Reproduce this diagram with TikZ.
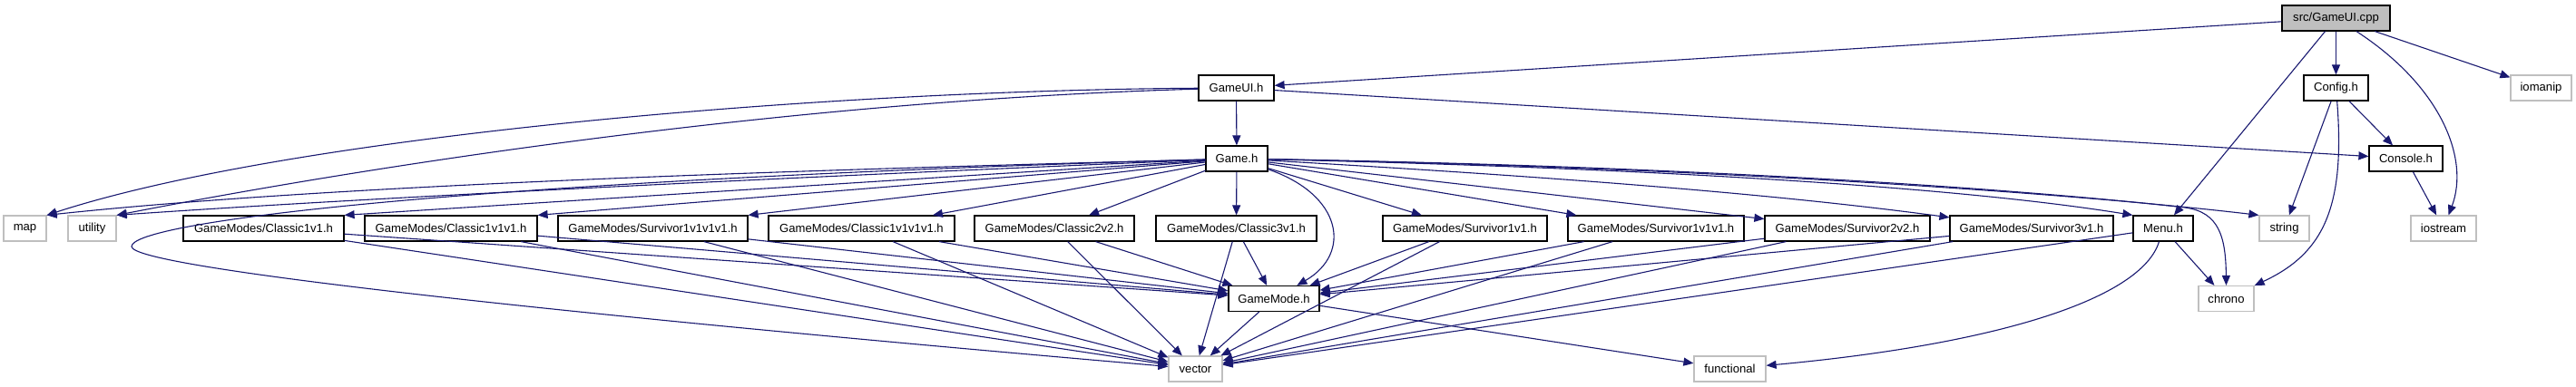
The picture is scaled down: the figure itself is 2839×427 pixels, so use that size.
\documentclass[tikz,border=0pt]{standalone}
\usepackage{fontspec}
\setmainfont{Liberation Sans}
\usetikzlibrary{arrows.meta}
\definecolor{edgeblue}{HTML}{191970}
\definecolor{greyb}{HTML}{BFBFBF}
\begin{document}
\begin{tikzpicture}[x=0.5pt,y=-0.5pt,
  box/.style={draw=black, line width=0.6pt, fill=white, rectangle, inner sep=0pt,
    minimum height=14pt, font=\fontsize{6.55pt}{8pt}\selectfont},
  sysbox/.style={box, draw=greyb},
  srcbox/.style={box, fill=greyb},
  edge/.style={draw=edgeblue, line width=0.55pt, -{Triangle[length=5.5pt,width=4.5pt]}},
]
\useasboundingbox (0,0) rectangle (2839,427);
% nodes
\node[srcbox, minimum width=59.5pt] (cpp) at (2574.5,20) {src/GameUI.cpp};
\node[box, minimum width=41.5pt] (gameui) at (1362.5,97) {GameUI.h};
\node[box, minimum width=35.5pt] (config) at (2574.5,97) {Config.h};
\node[sysbox, minimum width=33.5pt] (iomanip) at (2800.5,97) {iomanip};
\node[box, minimum width=34pt] (game) at (1363,175) {Game.h};
\node[box, minimum width=40.5pt] (console) at (2651.5,175) {Console.h};
\node[sysbox, minimum width=23.5pt] (map) at (27.5,252) {map};
\node[sysbox, minimum width=26.5pt] (utility) at (101.5,252) {utility};
\node[box, minimum width=88.5pt] (c11) at (290.5,252) {GameModes/Classic1v1.h};
\node[box, minimum width=95pt] (c111) at (497,252) {GameModes/Classic1v1v1.h};
\node[box, minimum width=104.5pt] (s1111) at (719.5,252) {GameModes/Survivor1v1v1v1.h};
\node[box, minimum width=102.5pt] (c1111) at (949.5,252) {GameModes/Classic1v1v1v1.h};
\node[box, minimum width=88pt] (c22) at (1162,252) {GameModes/Classic2v2.h};
\node[box, minimum width=88.5pt] (c31) at (1362.5,252) {GameModes/Classic3v1.h};
\node[box, minimum width=90.5pt] (s11) at (1614.5,252) {GameModes/Survivor1v1.h};
\node[box, minimum width=97pt] (s111) at (1825,252) {GameModes/Survivor1v1v1.h};
\node[box, minimum width=91pt] (s22) at (2036,252) {GameModes/Survivor2v2.h};
\node[box, minimum width=90pt] (s31) at (2239,252) {GameModes/Survivor3v1.h};
\node[box, minimum width=33pt] (menu) at (2384,252) {Menu.h};
\node[sysbox, minimum width=27.5pt] (string) at (2517.5,252) {string};
\node[sysbox, minimum width=36pt] (iostream) at (2693,252) {iostream};
\node[box, minimum width=50pt] (gamemode) at (1404,329.5) {GameMode.h};
\node[sysbox, minimum width=30.5pt] (chrono) at (2453.5,329.5) {chrono};
\node[sysbox, minimum width=29.5pt] (vector) at (1317.5,407) {vector};
\node[sysbox, minimum width=39.5pt] (functional) at (1906.5,407) {functional};
\coordinate (bend) at (2408,229);
% src/GameUI.cpp
\draw[edge] (cpp) -- (gameui);
\draw[edge] (cpp) -- (config);
\draw[edge] (cpp) -- (iomanip);
\draw[edge] (cpp) -- (menu);
\draw[edge] (cpp) .. controls (2690,95) and (2722,175) .. (iostream);
% Config.h
\draw[edge] (config) -- (console);
\draw[edge] (config) -- (string);
\draw[edge] (config) .. controls (2585,230) and (2560,280) .. (chrono);
% Console.h
\draw[edge] (console) -- (iostream);
% GameUI.h
\draw[edge] (gameui) -- (game);
\draw[edge] (gameui) -- (console);
\draw[edge] (gameui) .. controls (900,100) and (320,150) .. (map.north east);
\draw[edge] (gameui) .. controls (900,110) and (450,175) .. (utility.north east);
% Game.h
\draw[edge] (game) .. controls (1000,185) and (400,200) .. (map.north east);
\draw[edge] (game) .. controls (1000,190) and (450,215) .. (utility.north east);
\draw[edge] (game) .. controls (500,200) and (145,245) .. (145,272)
  .. controls (145,295) and (600,345) .. (vector);
\draw[edge] (game) -- (c11.north east);
\draw[edge] (game) -- (c111.north east);
\draw[edge] (game) -- (s1111.north east);
\draw[edge] (game) -- (c1111);
\draw[edge] (game) -- (c22);
\draw[edge] (game) -- (c31);
\draw[edge] (game) .. controls (1480,215) and (1490,280) .. (gamemode);
\draw[edge] (game) -- (s11);
\draw[edge] (game) -- (s111);
\draw[edge] (game) -- (s22);
\draw[edge] (game) .. controls (1800,200) and (2000,220) .. (s31);
\draw[edge] (game) .. controls (1800,185) and (2150,205) .. (menu.north west);
\draw[edge] (game) .. controls (1900,185) and (2300,215) .. (string.north west);
\draw[edge] (game) .. controls (1900,184) and (2250,211) .. (bend)
  .. controls (2446,234) and (2453,262) .. (chrono.north);
% GameModes headers
\foreach \g in {c11,c111,s1111,c1111,c22,c31,s11,s111,s22,s31}{
  \draw[edge] (\g) -- (gamemode);
  \draw[edge] (\g) -- (vector);
}
% Menu.h
\draw[edge] (menu) -- (vector);
\draw[edge] (menu) -- (chrono);
\draw[edge] (menu) .. controls (2360,330) and (2200,380) .. (functional);
% GameMode.h
\draw[edge] (gamemode) -- (vector);
\draw[edge] (gamemode) -- (functional);
\end{tikzpicture}
\end{document}
